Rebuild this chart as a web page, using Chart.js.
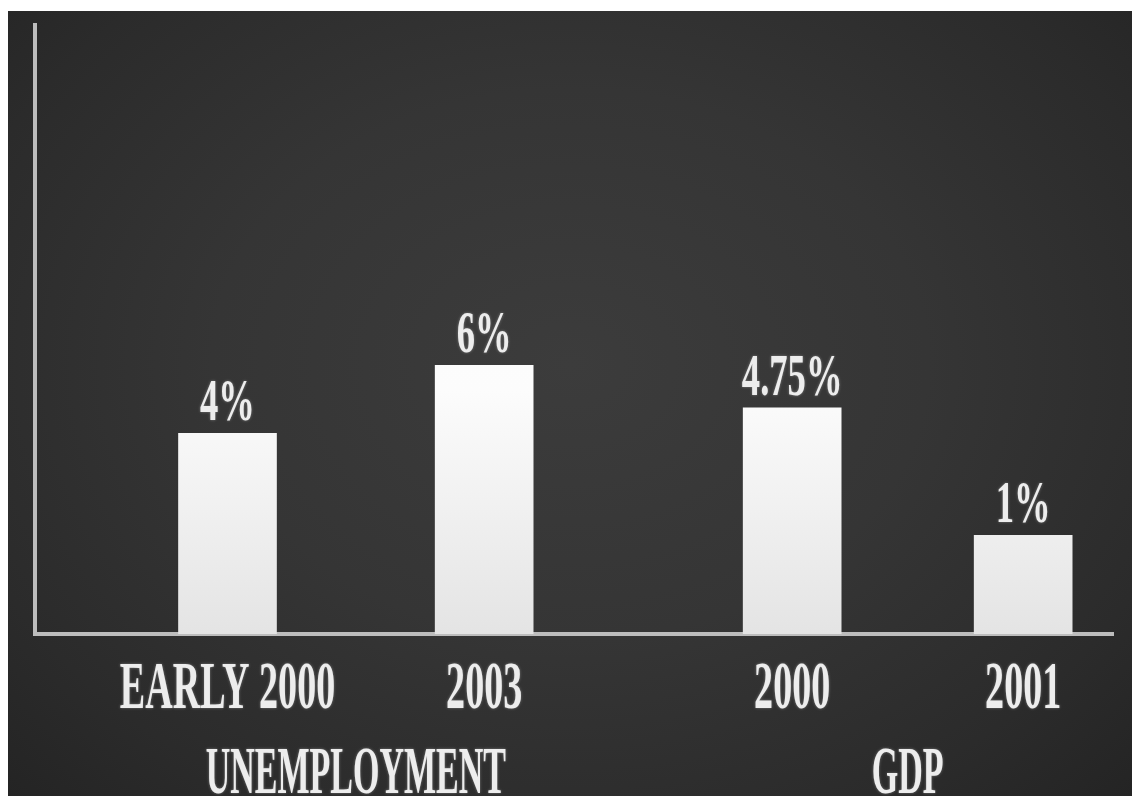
<!DOCTYPE html>
<html>
<head>
<meta charset="utf-8">
<title>Unemployment and GDP</title>
<script src="https://cdn.jsdelivr.net/npm/chart.js@4"></script>
<style>
    html, body { margin: 0; padding: 0; background: #ffffff; }
    #board {
        position: absolute;
        left: 8px;
        top: 11px;
        width: 1124px;
        height: 785px;
        background: radial-gradient(ellipse at 50% 45%, #3c3c3c 0%, #353535 45%, #2b2b2b 80%, #242424 100%);
    }
</style>
</head>
<body>
<div id="board"><canvas id="chart"></canvas></div>
<script>
// Chart data
const categories = ['EARLY 2000', '2003', '2000', '2001'];
const rates = [4, 6, 4.75, 1];
const rateLabels = ['4%', '6%', '4.75%', '1%'];
const groupNames = ['UNEMPLOYMENT', 'GDP'];
const groupOfBar = [0, 0, 1, 1];

// The x axis is cut into narrow slots so the uneven gaps between bars can be kept
const SLOT_COUNT = 42;
const BAR_SLOTS = [7, 17, 29, 38];

const slotLabels = [];
const slotValues = [];
for (let i = 0; i < SLOT_COUNT; i++) {
    const k = BAR_SLOTS.indexOf(i);
    slotLabels.push(k >= 0 ? categories[k] : '');
    slotValues.push(k >= 0 ? rates[k] : null);
}

const Y_MIN = -1.9;
const Y_MAX = 16;
const FONT = '"Liberation Serif", "DejaVu Serif", serif';

// Narrow serif text like the chalkboard lettering
function drawCondensed(ctx, text, x, y, size, squeeze) {
    ctx.save();
    ctx.translate(x, y);
    ctx.scale(squeeze, 1);
    ctx.font = 'bold ' + size + 'px ' + FONT;
    ctx.textAlign = 'center';
    ctx.textBaseline = 'alphabetic';
    ctx.fillStyle = '#ededed';
    ctx.shadowColor = 'rgba(255,255,255,0.35)';
    ctx.shadowBlur = 3;
    ctx.fillText(text, 0, 0);
    ctx.restore();
}

const chalkLabels = {
    id: 'chalkLabels',
    afterDraw(chart) {
        const ctx = chart.ctx;
        const area = chart.chartArea;
        const bars = chart.getDatasetMeta(0).data;
        const barX = [];

        BAR_SLOTS.forEach((slot, k) => {
            const bar = bars[slot];
            barX.push(bar.x);
            // value on top of the bar
            drawCondensed(ctx, rateLabels[k], bar.x, bar.y - 13, 59, 0.62);
            // period under the axis
            drawCondensed(ctx, categories[k], bar.x, area.bottom + 74, 68, 0.56);
        });

        // group names, centred under their pair of bars
        groupNames.forEach((name, g) => {
            const xs = barX.filter((x, k) => groupOfBar[k] === g);
            const mid = (Math.min(...xs) + Math.max(...xs)) / 2;
            drawCondensed(ctx, name, mid, area.bottom + 159, 68, 0.5);
        });
    }
};

function barFill(context) {
    const chart = context.chart;
    const area = chart.chartArea;
    if (!area) return '#ffffff';
    const g = chart.ctx.createLinearGradient(0, area.top, 0, area.bottom);
    g.addColorStop(0, '#ffffff');
    g.addColorStop(0.6, '#fcfcfc');
    g.addColorStop(1, '#e4e4e4');
    return g;
}

new Chart(document.getElementById('chart').getContext('2d'), {
    type: 'bar',
    data: {
        labels: slotLabels,
        datasets: [{
            label: 'Rate (%)',
            data: slotValues,
            base: Y_MIN,
            backgroundColor: barFill,
            borderWidth: 0,
            barThickness: 98
        }]
    },
    options: {
        responsive: true,
        maintainAspectRatio: false,
        animation: false,
        layout: { padding: { left: 27, top: 14, right: 19, bottom: 162 } },
        plugins: {
            legend: { display: false },
            tooltip: { enabled: false }
        },
        scales: {
            x: {
                grid: { display: false, drawTicks: false },
                border: { display: true, color: '#bdbdbd', width: 4 },
                ticks: { display: false }
            },
            y: {
                min: Y_MIN,
                max: Y_MAX,
                grid: { display: false, drawTicks: false },
                border: { display: true, color: '#bdbdbd', width: 4 },
                ticks: { display: false }
            }
        }
    },
    plugins: [chalkLabels]
});
</script>
</body>
</html>
